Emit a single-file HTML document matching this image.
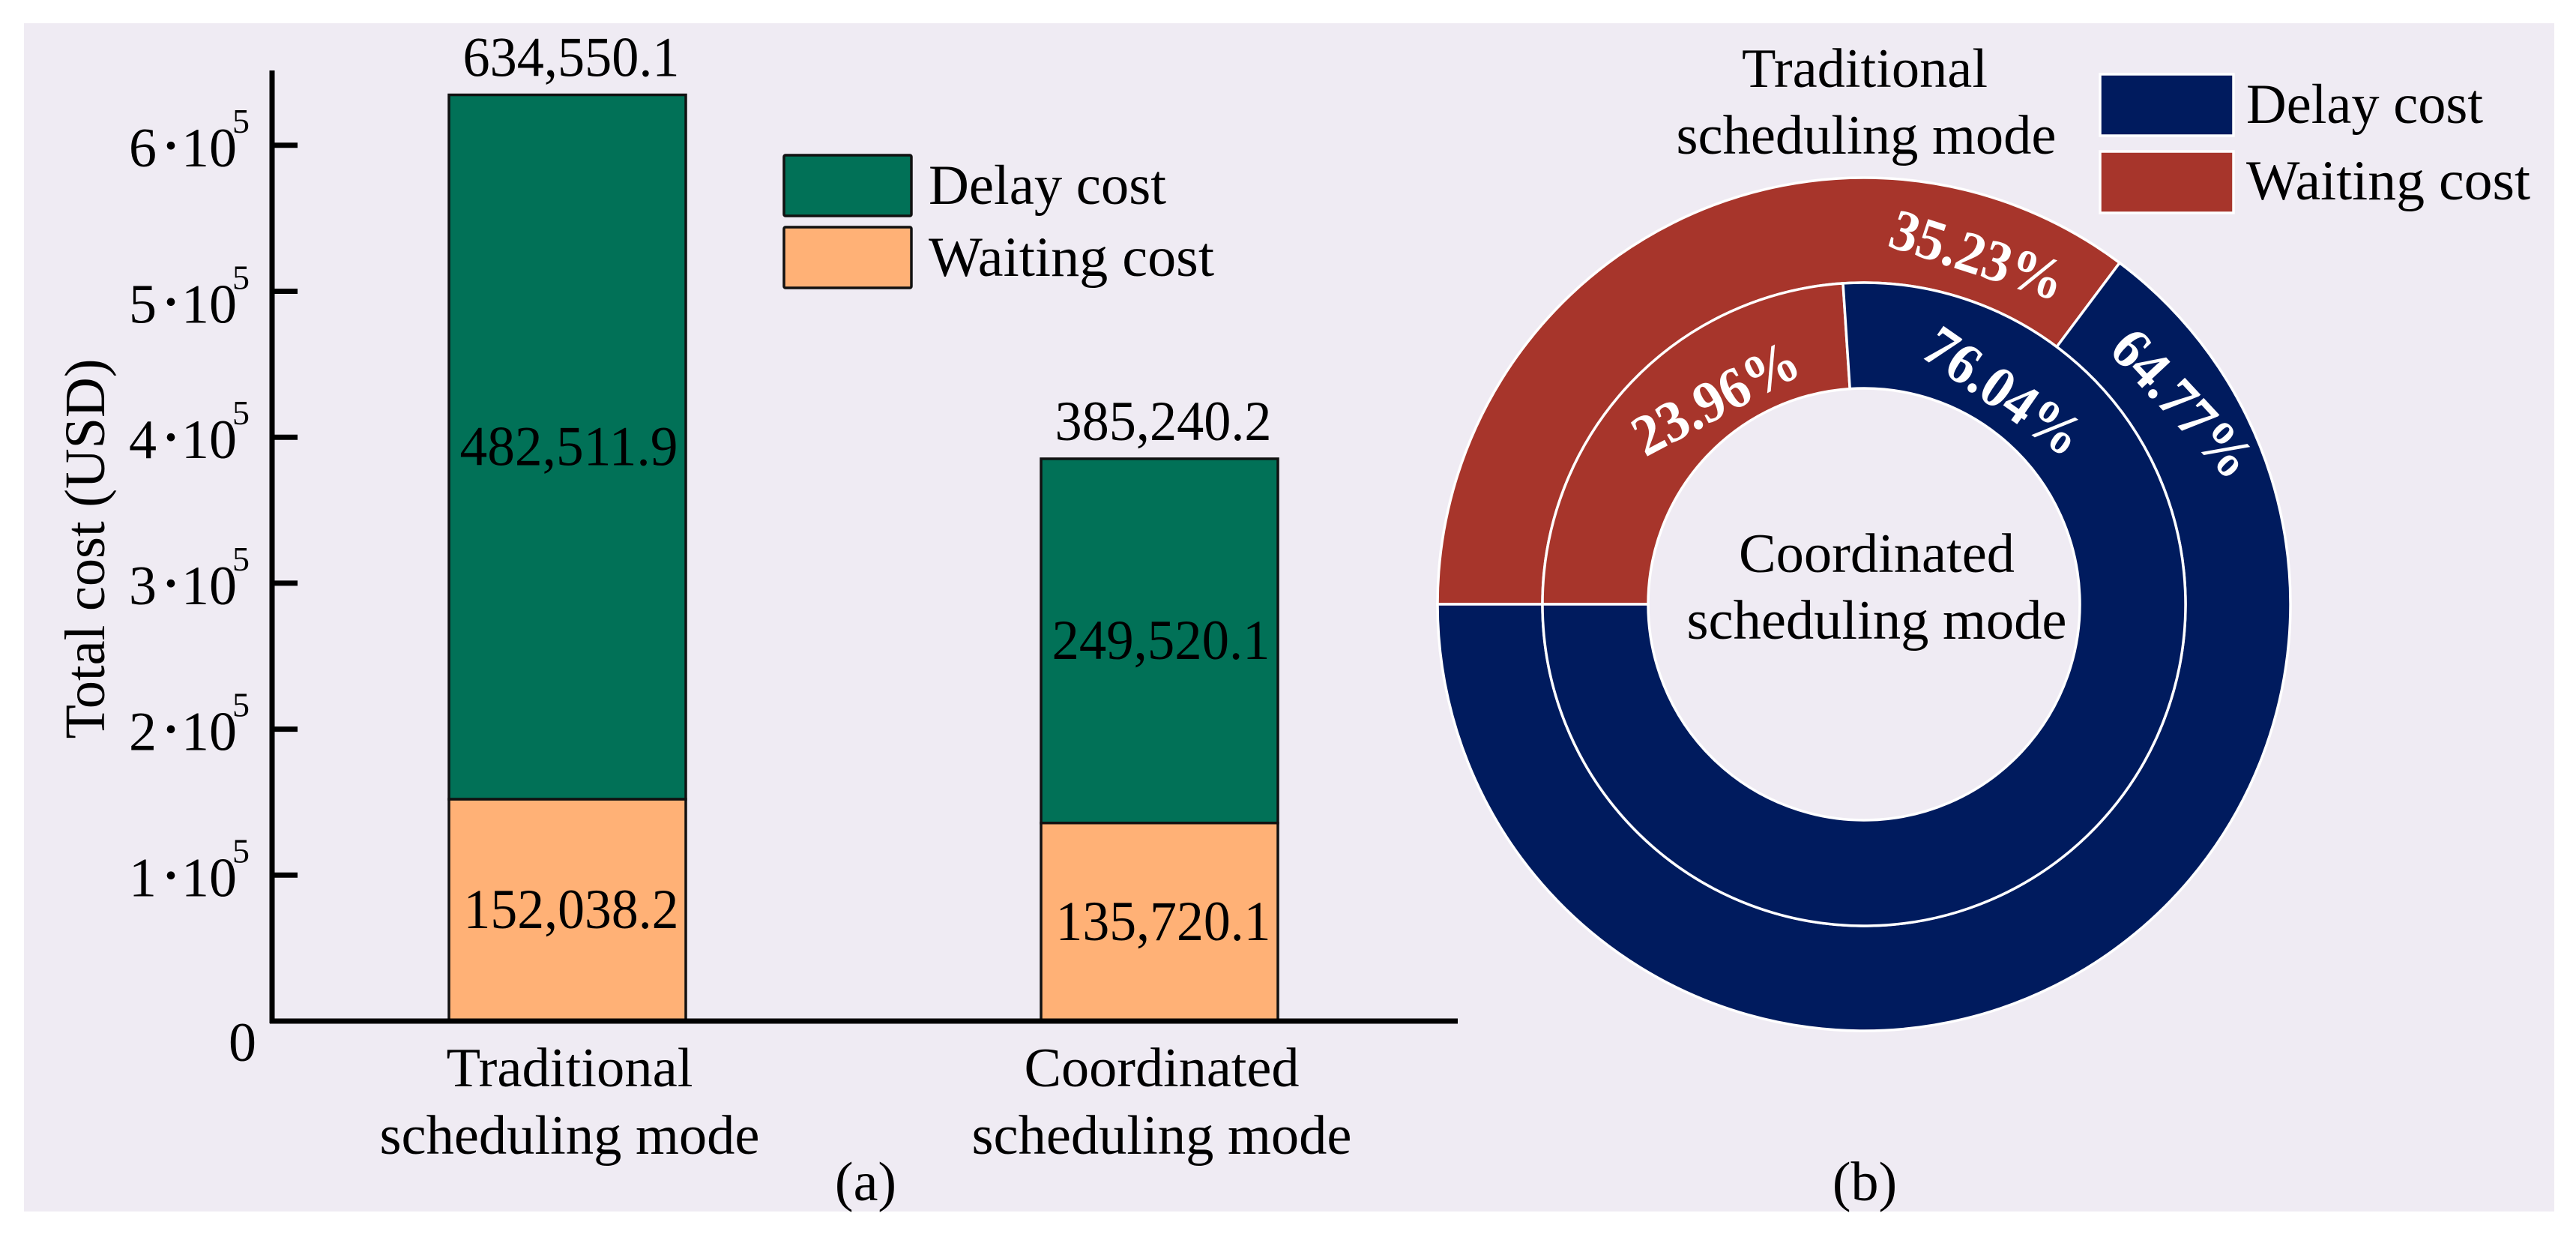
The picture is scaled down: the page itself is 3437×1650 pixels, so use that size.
<!DOCTYPE html>
<html lang="en">
<head>
<meta charset="utf-8">
<title>Total cost comparison of scheduling modes</title>
<style>
html,body{margin:0;padding:0;background:#fff;}
svg{display:block;}
text{font-family:"Liberation Serif",serif;fill:#000;}
</style>
</head>
<body>
<svg id="figure" xmlns="http://www.w3.org/2000/svg" width="3437" height="1650" viewBox="0 0 3437 1650">
  <rect x="32" y="31" width="3376" height="1585" fill="#efebf3"/>

  <g id="bars"></g>
  <g id="axis"></g>

  <text transform="translate(139,732) rotate(-90)" text-anchor="middle" font-size="76" textLength="507" lengthAdjust="spacingAndGlyphs">Total cost (USD)</text>

  <g>
    <rect x="1046" y="207" width="170" height="81" rx="2" fill="#017157" stroke="#111" stroke-width="3.5"/>
    <text x="1239" y="272" font-size="75" textLength="317" lengthAdjust="spacingAndGlyphs">Delay cost</text>
    <rect x="1046" y="303" width="170" height="81" rx="2" fill="#ffb176" stroke="#111" stroke-width="3.5"/>
    <text x="1239" y="368" font-size="75" textLength="381" lengthAdjust="spacingAndGlyphs">Waiting cost</text>
  </g>

  <text x="1155" y="1601" text-anchor="middle" font-size="74">(a)</text>

  <g id="donut"></g>

  <g>
    <rect x="2802" y="99" width="178" height="82" fill="#001b5e" stroke="#fff" stroke-width="3.5"/>
    <text x="2997" y="164" font-size="75" textLength="316" lengthAdjust="spacingAndGlyphs">Delay cost</text>
    <rect x="2802" y="202" width="178" height="82" fill="#a7352b" stroke="#fff" stroke-width="3.5"/>
    <text x="2997" y="266" font-size="75" textLength="379" lengthAdjust="spacingAndGlyphs">Waiting cost</text>
  </g>

  <g>
    <text x="2488" y="116" text-anchor="middle" font-size="74" textLength="328" lengthAdjust="spacingAndGlyphs">Traditional</text>
    <text x="2490" y="205" text-anchor="middle" font-size="74" textLength="507" lengthAdjust="spacingAndGlyphs">scheduling mode</text>
  </g>
  <g>
    <text x="2504" y="763" text-anchor="middle" font-size="74" textLength="368" lengthAdjust="spacingAndGlyphs">Coordinated</text>
    <text x="2504" y="852" text-anchor="middle" font-size="74" textLength="507" lengthAdjust="spacingAndGlyphs">scheduling mode</text>
  </g>

  <text x="2488" y="1601" text-anchor="middle" font-size="74">(b)</text>
</svg>

<script>
/* ---------- panel (a) data ---------- */
const categoriesLine1 = ["Traditional", "Coordinated"];
const categoriesLine2 = ["scheduling mode", "scheduling mode"];
const delayCost = [482511.9, 249520.1];
const waitingCost = [152038.2, 135720.1];
const tickValues = [0, 100000, 200000, 300000, 400000, 500000, 600000];
const tickMantissas = ["0", "1", "2", "3", "4", "5", "6"];

/* ---------- panel (b) data ---------- */
const outerShares = [35.23, 64.77];
const innerShares = [23.96, 76.04];

const NS = "http://www.w3.org/2000/svg";
const GREEN = "#017157", ORANGE = "#ffb176", NAVY = "#001b5e", RED = "#a7352b";

function make(tag, attrs, parent, txt) {
  const el = document.createElementNS(NS, tag);
  for (const k in attrs) el.setAttribute(k, attrs[k]);
  if (txt !== undefined) el.textContent = txt;
  parent.appendChild(el);
  return el;
}

/* axis functions */
function yScale(v) { return 1362 - v * 194.7 / 100000; }
function xBand(i) { return 599 + i * 790; }
const BAR_W = 316;
function fmt(v) { return v.toLocaleString("en-US", {minimumFractionDigits: 1, maximumFractionDigits: 1}); }

/* bars */
const barsG = document.getElementById("bars");
categoriesLine1.forEach(function (cat, i) {
  const x = xBand(i), cx = x + BAR_W / 2;
  const w = waitingCost[i], d = delayCost[i], total = w + d;

  const waitRect = make("rect", {x: x, y: yScale(w), width: BAR_W, height: yScale(0) - yScale(w), fill: ORANGE, stroke: "#111", "stroke-width": 3.5}, barsG);
  
  

  const delayRect = make("rect", {x: x, y: yScale(total), width: BAR_W, height: yScale(w) - yScale(total), fill: GREEN, stroke: "#111", "stroke-width": 3.5}, barsG);
  
  

  const waitLabel = make("text", {x: cx + 5, y: (yScale(w) + yScale(0)) / 2 + 24, "text-anchor": "middle", "font-size": 75, textLength: 287, lengthAdjust: "spacingAndGlyphs"}, barsG, fmt(w));
  
  

  const delayLabel = make("text", {x: cx + 2, y: (yScale(total) + yScale(w)) / 2 + 24, "text-anchor": "middle", "font-size": 75, textLength: 291, lengthAdjust: "spacingAndGlyphs"}, barsG, fmt(d));
  
  

  const totalLabel = make("text", {x: cx + 5, y: yScale(total) - 25, "text-anchor": "middle", "font-size": 75, textLength: 289, lengthAdjust: "spacingAndGlyphs"}, barsG, fmt(total));
  
  

  const cat1 = make("text", {x: cx + 3, y: 1449, "text-anchor": "middle", "font-size": 74, textLength: i === 0 ? 329 : 367, lengthAdjust: "spacingAndGlyphs"}, barsG, cat);
  
  

  const cat2 = make("text", {x: cx + 3, y: 1539, "text-anchor": "middle", "font-size": 74, textLength: 507, lengthAdjust: "spacingAndGlyphs"}, barsG, categoriesLine2[i]);
  
  
});

/* axes */
const axisG = document.getElementById("axis");
const yLine = make("line", {x1: 363, x2: 363, y1: 94, y2: 1365, stroke: "#000", "stroke-width": 7}, axisG);


const xLine = make("line", {x1: 360, x2: 1945, y1: 1362, y2: 1362, stroke: "#000", "stroke-width": 7}, axisG);



tickValues.forEach(function (v, i) {
  const y = yScale(v);
  if (v === 0) {
    const zero = make("text", {x: 305, y: y + 53, "font-size": 74}, axisG, tickMantissas[i]);
    
    
    return;
  }
  const tick = make("line", {x1: 363, x2: 397, y1: y, y2: y, stroke: "#000", "stroke-width": 7}, axisG);
  
  

  const base = y + (tickMantissas[i] === "5" ? 42 : 28);
  const label = make("text", {"font-size": 74, y: base}, axisG);
  
  
  make("tspan", {x: 172}, label, tickMantissas[i]);
  make("tspan", {x: 242}, label, "10");
  make("tspan", {x: 310, dy: -45, "font-size": 46}, label, "5");

  const dot = make("text", {x: 228, y: base + 2, "text-anchor": "middle", "font-size": 90}, axisG, "\u00b7");
  
  
});

/* donut */
const CX = 2487, CY = 806;
const R_OUT = 569, R_MID = 429, R_IN = 288;
function polar(r, deg) {
  const a = deg * Math.PI / 180;
  return [CX + r * Math.cos(a), CY - r * Math.sin(a)];
}
function slice(r0, r1, a0, a1) {
  const p0 = polar(r1, a0), p1 = polar(r1, a1), p2 = polar(r0, a1), p3 = polar(r0, a0);
  const large = Math.abs(a0 - a1) > 180 ? 1 : 0;
  return "M" + p0[0] + " " + p0[1] + "A" + r1 + " " + r1 + " 0 " + large + " 1 " + p1[0] + " " + p1[1] +
         "L" + p2[0] + " " + p2[1] + "A" + r0 + " " + r0 + " 0 " + large + " 0 " + p3[0] + " " + p3[1] + "Z";
}
const donutG = document.getElementById("donut");
function ring(shares, r0, r1) {
  const waitEnd = 180 - shares[0] * 3.6;
  const red = make("path", {d: slice(r0, r1, 180, waitEnd), fill: RED, stroke: "#fff", "stroke-width": 3.5}, donutG);
  
  
  const navy = make("path", {d: slice(r0, r1, waitEnd, waitEnd - shares[1] * 3.6), fill: NAVY, stroke: "#fff", "stroke-width": 3.5}, donutG);
  
  
  return waitEnd;
}
const outerEnd = ring(outerShares, R_MID, R_OUT);
const innerEnd = ring(innerShares, R_IN, R_MID);

function pctLabel(value, r, deg, rot) {
  const p = polar(r, deg);
  const t = make("text", {transform: "translate(" + p[0] + "," + p[1] + ") rotate(" + rot + ")", y: 26, "text-anchor": "middle", "font-size": 78, "font-weight": "bold", textLength: 240, lengthAdjust: "spacingAndGlyphs", style: "fill:#fff"}, donutG, value.toFixed(2) + "%");
  
  
}
pctLabel(outerShares[0], 490, outerEnd + 18.8, 18);
pctLabel(outerShares[1], 503, outerEnd - 21, 47);
pctLabel(innerShares[0], 339, innerEnd + 32, -28);
pctLabel(innerShares[1], 340, innerEnd - 37, 35);
</script>
</body>
</html>
